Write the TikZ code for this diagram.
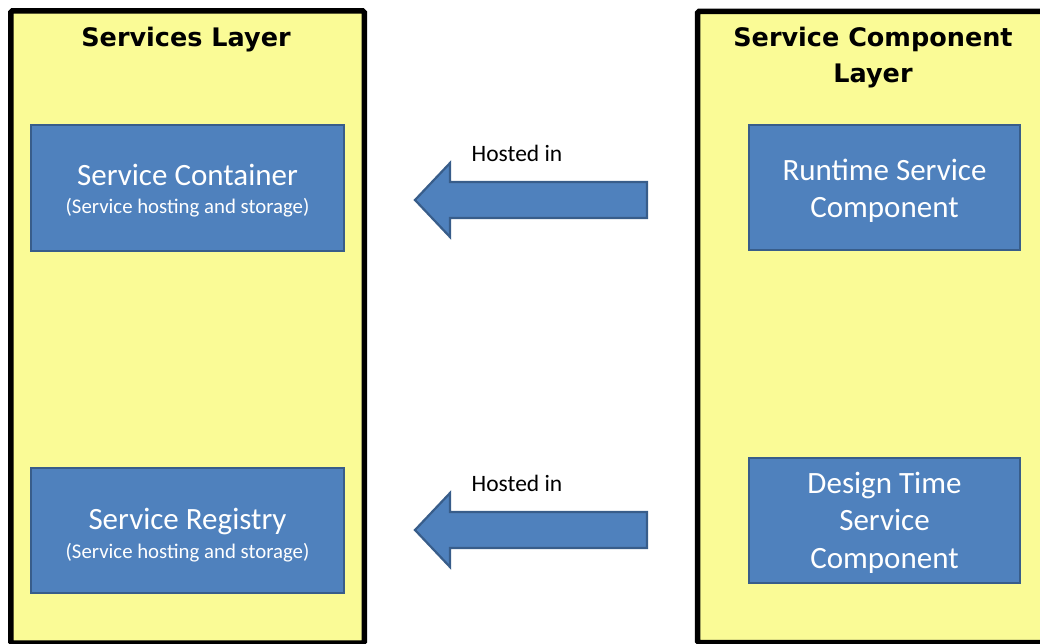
\documentclass[tikz,border=0pt]{standalone}
\usepackage{fontspec}
\setmainfont{Carlito}
\newfontfamily\titlefont{DejaVu Sans}
\definecolor{panelyellow}{RGB}{250,251,150}
\definecolor{boxblue}{RGB}{79,129,189}
\definecolor{boxedge}{RGB}{56,93,138}
\begin{document}
\begin{tikzpicture}[x=1pt,y=-1pt,
  panel/.style={draw=black,line width=5.5pt,fill=panelyellow,rounded corners=1.5pt},
  bluebox/.style={draw=boxedge,line width=2pt,fill=boxblue,inner sep=0pt},
  boxtext/.style={anchor=base,text=white,inner sep=0pt,font=\fontsize{31}{37}\selectfont},
  subtext/.style={anchor=base,text=white,inner sep=0pt,font=\fontsize{20.8}{24}\selectfont},
  titletext/.style={anchor=base,inner sep=0pt,font=\titlefont\bfseries\fontsize{25.5}{30}\selectfont},
  labeltext/.style={anchor=base,inner sep=0pt,font=\fontsize{23.5}{26}\selectfont},
  blockarrow/.style={fill=boxblue,draw=boxedge,line width=2.2pt,line join=miter}
]
\useasboundingbox (0,0) rectangle (1040,644);
\clip (0,0) rectangle (1040,644);

% panels
\draw[panel] (10.75,11) rectangle (364.25,643);
\draw[panel] (697.5,11.5) rectangle (1052,642.5);

% titles
\node[titletext] (t1) at (186,46.7) {Services Layer};
\node[titletext] (t2a) at (873,46.7) {Service Component};
\node[titletext] (t2b) at (873,83) {Layer};

% left boxes
\node[bluebox,minimum width=313pt,minimum height=126pt] (sc) at (187.5,188) {};
\node[boxtext] (sc1) at (187.5,185.5) {Service Container};
\node[subtext] (sc2) at (187.5,214) {(Service hosting and storage)};

\node[bluebox,minimum width=313pt,minimum height=125pt] (sr) at (187.5,530.5) {};
\node[boxtext] (sr1) at (187.5,529.5) {Service Registry};
\node[subtext] (sr2) at (187.5,558) {(Service hosting and storage)};

% right boxes
\node[bluebox,minimum width=271pt,minimum height=125pt] (rs) at (884.5,187.5) {};
\node[boxtext] (rs1) at (884.5,181) {Runtime Service};
\node[boxtext] (rs2) at (884.5,218) {Component};

\node[bluebox,minimum width=271pt,minimum height=125pt] (ds) at (884.5,520.5) {};
\node[boxtext] (ds1) at (884.5,493) {Design Time};
\node[boxtext] (ds2) at (884.5,530.5) {Service};
\node[boxtext] (ds3) at (884.5,568) {Component};

% block arrows
\draw[blockarrow] (647,182)--(450,182)--(450,163)--(415,200)--(450,237)--(450,218)--(647,218)--cycle;
\draw[blockarrow] (647,512)--(450,512)--(450,493)--(415,530)--(450,567)--(450,548)--(647,548)--cycle;

\node[labeltext] (h1) at (517,161.7) {Hosted in};
\node[labeltext] (h2) at (517,491) {Hosted in};
\end{tikzpicture}
\end{document}
